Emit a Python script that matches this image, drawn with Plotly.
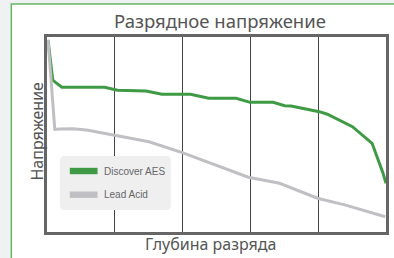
import plotly.graph_objects as go

# ---- data (depth of discharge %, relative voltage %) ----
aes_depth = [0.3, 1.7, 2.6, 4.4, 17.0, 20.8, 29.2, 33.9, 42.3, 47.7, 55.8, 59.9, 66.7, 70.1, 72.0, 80.3, 82.7, 90.1, 95.9, 97.9, 99.1, 100.0]
aes_volt = [98.5, 77.9, 76.6, 74.2, 74.2, 72.7, 72.3, 70.6, 70.6, 68.6, 68.6, 66.5, 66.5, 64.8, 64.6, 61.7, 60.4, 54.0, 45.5, 36.1, 30.3, 25.0]

lead_depth = [0.3, 2.3, 3.8, 7.6, 11.7, 20.4, 30.1, 39.9, 47.7, 52.0, 59.4, 68.6, 79.8, 88.1, 99.8]
lead_volt = [98.5, 52.6, 52.8, 52.9, 52.3, 49.5, 46.3, 40.7, 35.5, 32.7, 28.1, 25.0, 17.3, 13.8, 7.8]

series_names = ["Discover AES", "Lead Acid"]
series_colors = ["#3f9a45", "#c0c0c4"]
title_text = "Разрядное напряжение"
x_title = "Глубина разряда"
y_title = "Напряжение"

W, H = 394, 258
L, R, T, B = 47, 389, 37, 232


def px(x):
    return (x - L) / (R - L)


def py(y):
    return (B - y) / (B - T)


fig = go.Figure()
fig.add_trace(go.Scatter(x=aes_depth, y=aes_volt, mode="lines", name=series_names[0],
                         line=dict(color=series_colors[0], width=3), showlegend=False))
fig.add_trace(go.Scatter(x=lead_depth, y=lead_volt, mode="lines", name=series_names[1],
                         line=dict(color=series_colors[1], width=3), showlegend=False))

shapes = []
# white panel with green border
shapes.append(dict(type="rect", xref="paper", yref="paper", x0=px(11), y0=py(300), x1=px(420), y1=py(4),
                   fillcolor="white", line=dict(color="#66b866", width=1.5), layer="below"))


def rounded(x0, y0, x1, y1, r):
    return (f"M {px(x0 + r)} {py(y0)} L {px(x1 - r)} {py(y0)} Q {px(x1)} {py(y0)} {px(x1)} {py(y0 + r)} "
            f"L {px(x1)} {py(y1 - r)} Q {px(x1)} {py(y1)} {px(x1 - r)} {py(y1)} "
            f"L {px(x0 + r)} {py(y1)} Q {px(x0)} {py(y1)} {px(x0)} {py(y1 - r)} "
            f"L {px(x0)} {py(y0 + r)} Q {px(x0)} {py(y0)} {px(x0 + r)} {py(y0)} Z")


# legend box
shapes.append(dict(type="path", xref="paper", yref="paper", path=rounded(60, 156, 172, 210, 5),
                   fillcolor="#efefef", line=dict(width=0), layer="above"))
leg_y = [171, 194.7]
for i in range(2):
    shapes.append(dict(type="rect", xref="paper", yref="paper", x0=px(70), x1=px(98),
                       y0=py(leg_y[i] + 3.2), y1=py(leg_y[i] - 3.2),
                       fillcolor=series_colors[i], line=dict(width=0), layer="above"))

annotations = [
    dict(text=title_text, x=px(222), y=py(20.5), xref="paper", yref="paper", showarrow=False,
         xanchor="center", yanchor="middle", font=dict(size=18.5, color="#555555", family="Noto Sans")),
    dict(text=x_title, x=px(212), y=py(244), xref="paper", yref="paper", showarrow=False,
         xanchor="center", yanchor="middle", font=dict(size=16, color="#555555", family="Noto Sans")),
    dict(text=y_title, x=px(36.5), y=py(131), xref="paper", yref="paper", showarrow=False, textangle=-90,
         xanchor="center", yanchor="middle", font=dict(size=16, color="#555555", family="Noto Sans")),
]
for i in range(2):
    annotations.append(dict(text=series_names[i], x=px(102), y=py(leg_y[i]), xref="paper", yref="paper",
                            showarrow=False, xanchor="left", yanchor="middle",
                            font=dict(size=10, color="#666666", family="Liberation Sans")))

fig.update_layout(
    width=W, height=H,
    margin=dict(l=L, r=W - R, t=T, b=H - B, pad=0),
    paper_bgcolor="#f0f1f3", plot_bgcolor="rgba(0,0,0,0)",
    showlegend=False,
    shapes=shapes, annotations=annotations,
    xaxis=dict(range=[0, 100], showticklabels=False, ticks="", showgrid=True, dtick=20,
               gridcolor="#444444", gridwidth=1, zeroline=False,
               showline=True, mirror=True, linecolor="#666666", linewidth=2.5),
    yaxis=dict(range=[0, 100], showticklabels=False, ticks="", showgrid=False, zeroline=False,
               showline=True, mirror=True, linecolor="#666666", linewidth=2.5),
)

fig.write_html("out.html", config={"displayModeBar": False},
               post_script="document.body.style.margin='0';document.body.style.overflow='hidden';")
